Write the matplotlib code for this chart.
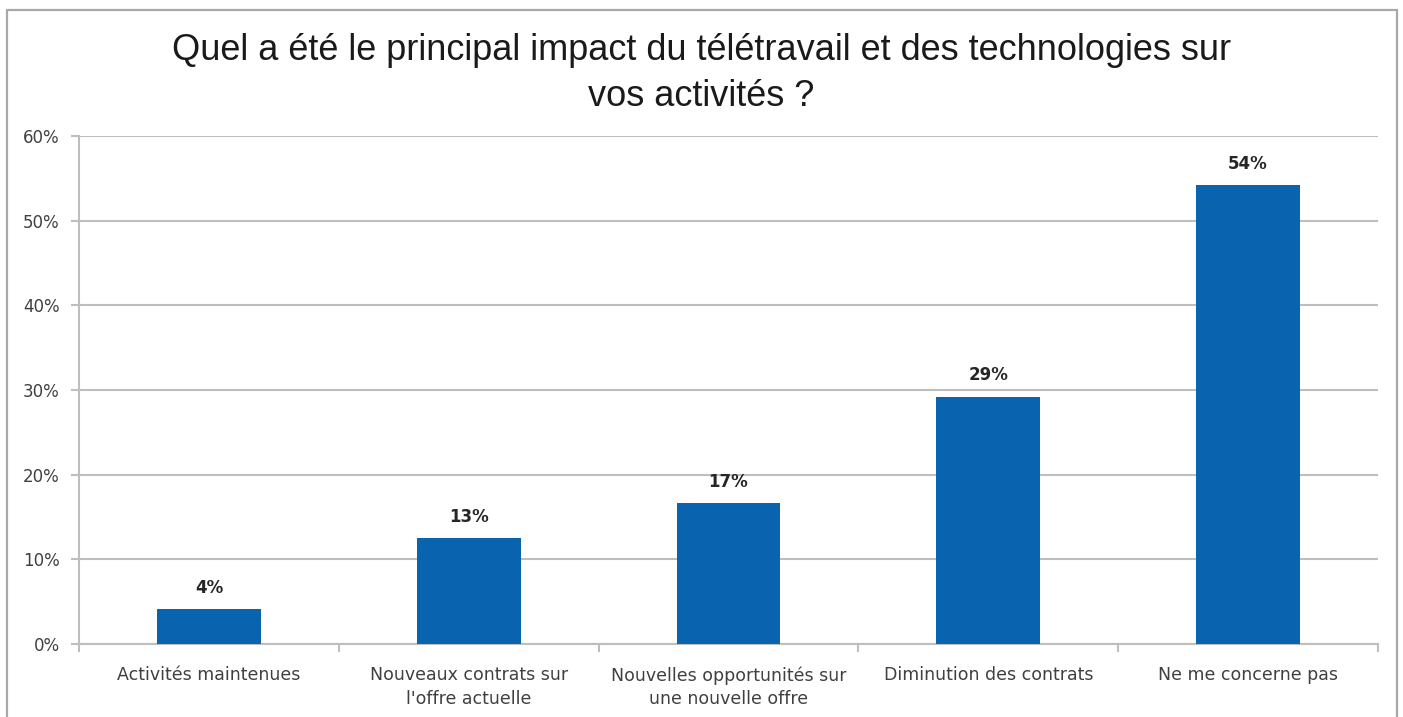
import matplotlib.pyplot as plt
from matplotlib.patches import Rectangle
from matplotlib.ticker import FixedLocator, PercentFormatter

categories = [
    "Activités maintenues",
    "Nouveaux contrats sur\nl'offre actuelle",
    "Nouvelles opportunités sur\nune nouvelle offre",
    "Diminution des contrats",
    "Ne me concerne pas",
]
values = [4.1, 12.5, 16.6, 29.2, 54.2]
labels = ["4%", "13%", "17%", "29%", "54%"]
yticks = [0, 10, 20, 30, 40, 50, 60]

BAR = "#0A63AE"
GRID = "#BEBEBE"
TXT = "#404040"
small_font = ["Liberation Sans Narrow", "DejaVu Sans"]

fig = plt.figure(figsize=(14.03, 7.17), dpi=100)
fig.patch.set_facecolor("white")

# outer chart frame
fig.patches.append(Rectangle((7 / 1403, -0.05), 1390 / 1403, 1.05 - 10 / 717,
                             transform=fig.transFigure, fill=False,
                             edgecolor="#A8A8A8", linewidth=1.6))

fig.text(0.5, 0.898, "Quel a été le principal impact du télétravail et des technologies sur\nvos activités ?",
         ha="center", va="center", fontsize=26, family="Liberation Sans",
         color="#1a1a1a", linespacing=1.4)

ax = fig.add_axes([79 / 1403, 73 / 717, 1299 / 1403, 508 / 717])
x = list(range(len(categories)))
ax.bar(x, values, width=0.4, color=BAR, zorder=3)

ax.set_xlim(-0.5, len(categories) - 0.5)
ax.set_ylim(0, 60)
ax.set_yticks(yticks)
ax.yaxis.set_major_formatter(PercentFormatter(decimals=0))
ax.grid(axis="y", color=GRID, linewidth=1.5, zorder=0)

for s in ["top", "right"]:
    ax.spines[s].set_visible(False)
for s in ["left", "bottom"]:
    ax.spines[s].set_color(GRID)
    ax.spines[s].set_linewidth(1.5)

ax.set_xticks(x)
ax.set_xticklabels(categories, fontsize=12.5, family=small_font, color=TXT, linespacing=1.4)
ax.tick_params(axis="x", length=0, pad=16)
ax.xaxis.set_minor_locator(FixedLocator([i - 0.5 for i in range(len(categories) + 1)]))
ax.tick_params(axis="x", which="minor", length=6, color=GRID, width=1.5)
ax.tick_params(axis="y", length=6, color=GRID, width=1.5, pad=8, labelsize=12, labelcolor=TXT)
for t in ax.get_yticklabels():
    t.set_family(small_font)

for xi, v, lab in zip(x, values, labels):
    ax.annotate(lab, (xi, v), xytext=(0, 9), textcoords="offset points",
                ha="center", va="bottom", fontsize=12, fontweight="bold",
                family=small_font, color="#262626")

fig.savefig("out.png", dpi=100)
